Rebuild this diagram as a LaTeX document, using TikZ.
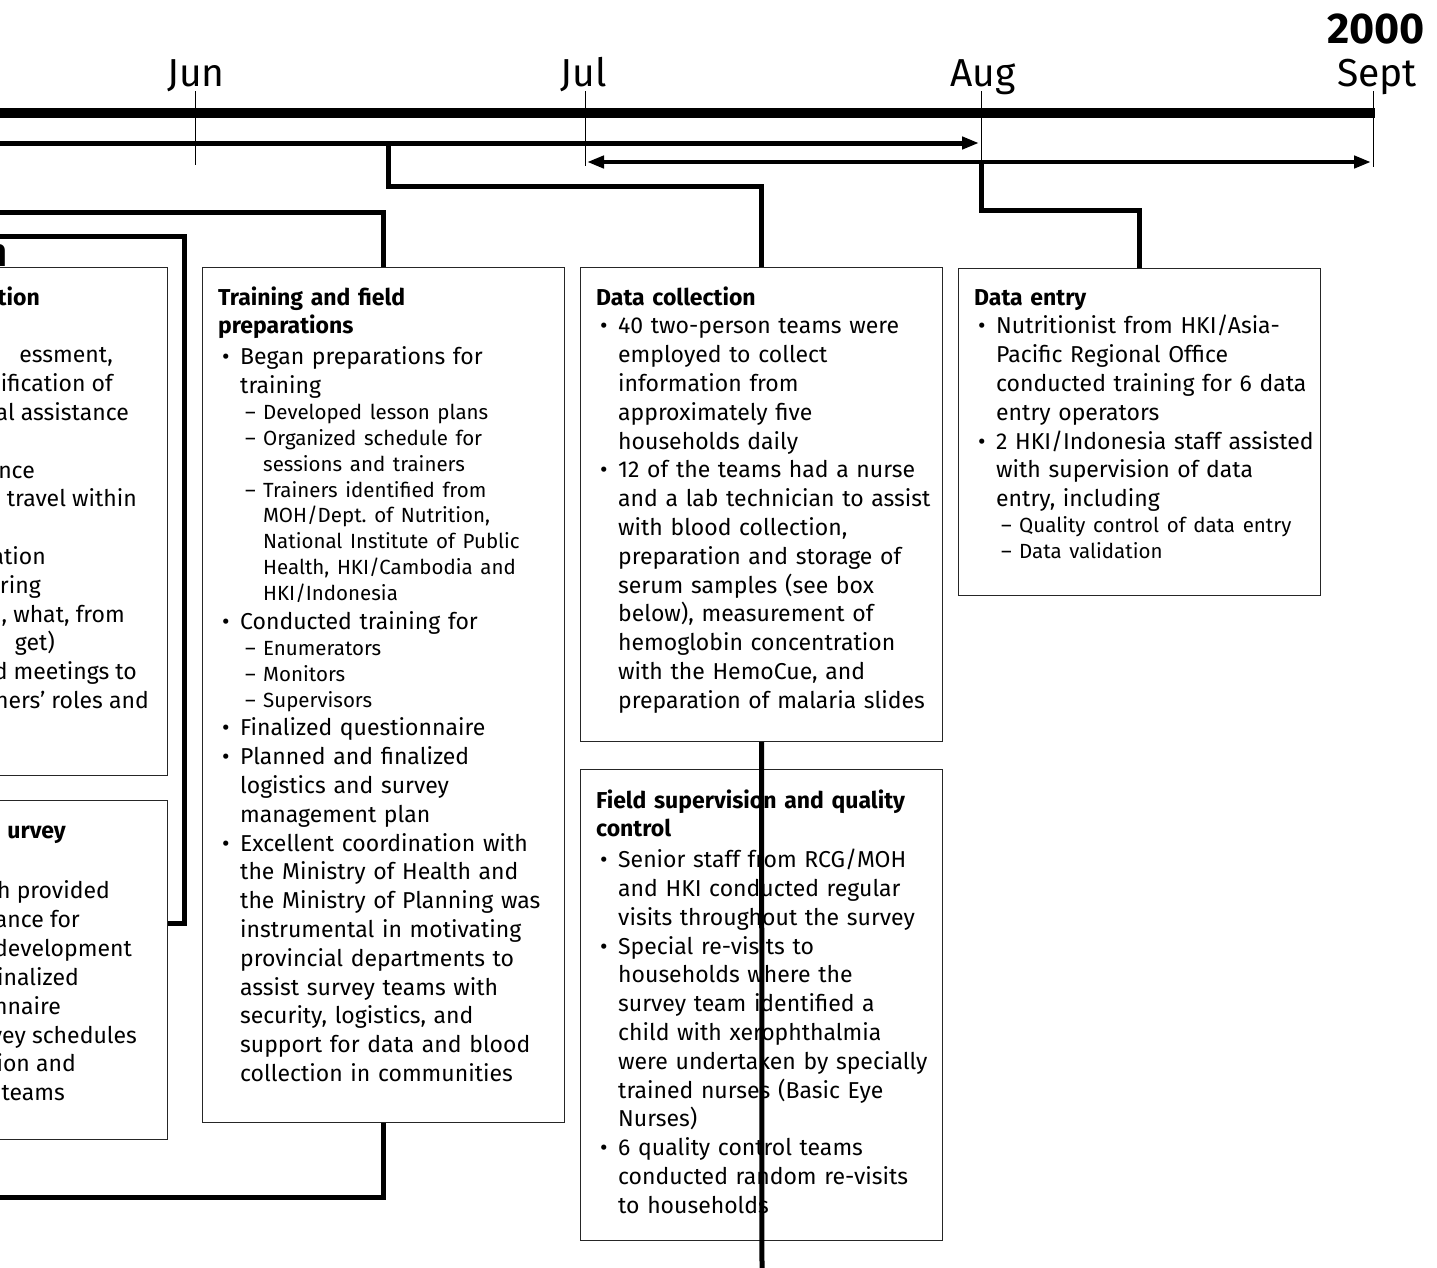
\documentclass[tikz,border=0pt]{standalone}
\usepackage{fontspec}
\setmainfont{Fira Sans}
\usetikzlibrary{arrows.meta}
\frenchspacing

\newcommand{\bodyfont}{\fontsize{23}{28.8}\selectfont}
\newcommand{\subfont}{\fontsize{20.5}{25.9}\selectfont}
% heading, bullet and dash items of the panels
\newcommand{\hd}[1]{{\bfseries #1}\par}
\newcommand{\hdd}[1]{{\bfseries #1}\par\vspace{2pt}}
\newcommand{\bul}[1]{\par\hangindent=22pt\hangafter=1\noindent\hbox to 22pt{\hskip4pt\textbullet\hfil}#1\par}
\newcommand{\sbl}[1]{{\subfont\hangindent=45pt\hangafter=1\noindent\hbox to 45pt{\hskip27pt--\hfil}#1\par}}

\begin{document}
\begin{tikzpicture}[x=1pt, y=-1pt,
    panel/.style={draw=black!85, line width=1.2pt, anchor=north west, inner sep=0pt},
    body/.style={anchor=base west, inner sep=0pt, text width=365pt, align=left, font=\bodyfont},
    frag/.style={anchor=base east, inner sep=0pt, font=\bodyfont},
    conn/.style={line width=5pt, line join=miter},
    tick/.style={line width=1pt},
    month/.style={anchor=base, inner sep=0pt, font=\fontsize{39}{44}\selectfont},
    >={Triangle[length=17pt, width=12pt]}]
    \fill[white] (0,0) rectangle (1437,1267);
    \useasboundingbox (0,0) rectangle (1437,1267);

    % time axis
    \node[month] (jun) at (196,86) {Jun};
    \node[month] (jul) at (584,86) {Jul};
    \node[month] (aug) at (983,86) {Aug};
    \node[month] (sep) at (1377,86) {Sept};
    \node[anchor=base east, inner sep=0pt, font=\fontsize{43}{48}\selectfont\bfseries] (yr) at (1425,43) {2000};
    \draw[line width=10pt] (-10,113) -- (1375,113);
    \draw[tick] (195,91) -- (195,165);
    \draw[tick] (585,91) -- (585,166);
    \draw[tick] (981,91) -- (981,166);
    \draw[tick] (1373,91) -- (1373,167);
    \draw[line width=5pt, ->] (-10,143) -- (979,143);
    \draw[line width=4.5pt, <->] (587,162) -- (1371,162);
    \coordinate (s1) at (388,143);
    \coordinate (s2) at (981,162);
    \coordinate (w1) at (-10,212);
    \coordinate (w2) at (-10,236);
    \coordinate (w3) at (-10,1197);
    \coordinate (b1) at (762,1275);

    % panels cut by the left edge
    \node[panel, minimum width=190pt, minimum height=508pt] (plan) at (-23,267) {};
    \node[panel, minimum width=190pt, minimum height=339pt] (srv) at (-23,800) {};
    \node[anchor=base east, inner sep=0pt, font=\fontsize{40}{44}\selectfont\bfseries] (ttl) at (8,266) {n};
    \node[frag, font=\bodyfont\bfseries] (ph) at (40,305) {tion};
    \foreach \y/\x/\t [count=\k] in {362/113/{essment,}, 391/113/{ification of}, 420/129/{al assistance},
        478/35/nce, 506/137/{travel within}, 564/46/ation, 593/41/ring, 622/125/{, what, from},
        650/55/{get)}, 679/137/{d meetings to}, 708/149/{ners’ roles and}}
        \node[frag] (pa\k) at (\x,\y) {\t};
    \node[frag, font=\bodyfont\bfseries] (sh) at (66,838) {urvey};
    \foreach \y/\x/\t [count=\k] in {898/110/{h provided}, 927/80/{ance for}, 956/132/development,
        985/79/inalized, 1014/61/nnaire, 1043/137/{vey schedules}, 1071/76/{ion and}, 1100/65/teams}
        \node[frag] (sa\k) at (\x,\y) {\t};

    % training and field preparations
    \node[panel, minimum width=362pt, minimum height=855pt] (trn) at (202,267) {};
    \node[body] (trntxt) at (218,305) {%
        \hdd{Training and field\newline preparations}
        \bul{Began preparations for\newline training}
        \sbl{Developed lesson plans}
        \sbl{Organized schedule for\newline sessions and trainers}
        \sbl{Trainers identified from\newline MOH/Dept. of Nutrition,\newline National Institute of Public\newline Health, HKI/Cambodia and\newline HKI/Indonesia}
        \bul{Conducted training for}
        \sbl{Enumerators}
        \sbl{Monitors}
        \sbl{Supervisors}
        \bul{Finalized questionnaire}
        \bul{Planned and finalized\newline logistics and survey\newline management plan}
        \bul{Excellent coordination with\newline the Ministry of Health and\newline the Ministry of Planning was\newline instrumental in motivating\newline provincial departments to\newline assist survey teams with\newline security, logistics, and\newline support for data and blood\newline collection in communities}};

    % data collection
    \node[panel, minimum width=362pt, minimum height=474pt] (dcol) at (580,267) {};
    \node[body] (dcoltxt) at (596,305) {%
        \hd{Data collection}
        \bul{40 two-person teams were\newline employed to collect\newline information from\newline approximately five\newline households daily}
        \bul{12 of the teams had a nurse\newline and a lab technician to assist\newline with blood collection,\newline preparation and storage of\newline serum samples (see box\newline below), measurement of\newline hemoglobin concentration\newline with the HemoCue, and\newline preparation of malaria slides}};

    % field supervision
    \node[panel, minimum width=362pt, minimum height=471pt] (fsup) at (580,769) {};
    \node[body] (fsuptxt) at (596,808) {%
        \hdd{Field supervision and quality\newline control}
        \bul{Senior staff from RCG/MOH\newline and HKI conducted regular\newline visits throughout the survey}
        \bul{Special re-visits to\newline households where the\newline survey team identified a\newline child with xerophthalmia\newline were undertaken by specially\newline trained nurses (Basic Eye\newline Nurses)}
        \bul{6 quality control teams\newline conducted random re-visits\newline to households}};

    % data entry
    \node[panel, minimum width=362pt, minimum height=327pt] (dent) at (958,268) {};
    \node[body] (denttxt) at (974,305) {%
        \hd{Data entry}
        \bul{Nutritionist from HKI/Asia-\newline Pacific Regional Office\newline conducted training for 6 data\newline entry operators}
        \bul{2 HKI/Indonesia staff assisted\newline with supervision of data\newline entry, including}
        \sbl{Quality control of data entry}
        \sbl{Data validation}};

    % connectors
    \draw[conn] (w1) -| (trn.north);
    \draw[conn] (w2) -| ([xshift=16pt, yshift=47pt]srv.east) -- ([yshift=47pt]srv.east);
    \draw[conn] (trn.south) |- (w3);
    \draw[conn] (s1) -- ++(0,43) -| (dcol.north);
    \draw[conn] (s2) -- ++(0,48) -| (dent.north);
    \draw[conn] (dcol.south) -- (b1);
\end{tikzpicture}
\end{document}
